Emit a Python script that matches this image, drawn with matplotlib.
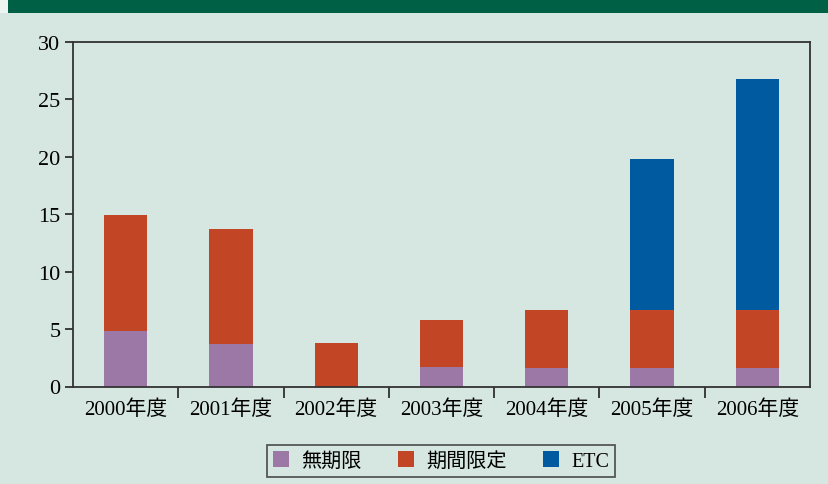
import matplotlib
matplotlib.use("Agg")
import matplotlib.pyplot as plt
from matplotlib.patches import Rectangle
import numpy as np

categories = ["2000年度", "2001年度", "2002年度", "2003年度", "2004年度", "2005年度", "2006年度"]
unlimited = [4.85, 3.7, 0.0, 1.7, 1.6, 1.6, 1.6]
limited = [10.05, 10.0, 3.8, 4.1, 5.05, 5.05, 5.05]
etc = [0.0, 0.0, 0.0, 0.0, 0.0, 13.15, 20.15]
series_names = ["無期限", "期間限定", "ETC"]
yticks = [0, 5, 10, 15, 20, 25, 30]

plt.rcParams['font.family'] = ['Liberation Serif', 'Noto Sans CJK JP']

W, H = 829, 485
fig = plt.figure(figsize=(W / 100, H / 100), dpi=100)
bg = "#d6e6e0"
fig.patch.set_facecolor(bg)
fig.patches.append(Rectangle((8 / W, 1 - 14 / H), 1 - 8 / W, 14 / H,
                             transform=fig.transFigure, facecolor="#006046",
                             edgecolor="none", zorder=0))
fig.patches.append(Rectangle((0, 1 - 14 / H), 8 / W, 14 / H,
                             transform=fig.transFigure, facecolor="#eef4f1",
                             edgecolor="none", zorder=0))

left, right, top, bottom = 73, 810, 43, 387.5
ax = fig.add_axes([left / W, 1 - bottom / H, (right - left) / W, (bottom - top) / H])
ax.set_facecolor(bg)

x = np.arange(len(categories))
w = 0.41
c1, c2, c3 = "#9b78a5", "#c24526", "#005aa0"
u = np.array(unlimited)
l = np.array(limited)
e = np.array(etc)
ax.bar(x, u, w, color=c1, label=series_names[0], zorder=2)
ax.bar(x, l, w, bottom=u, color=c2, label=series_names[1], zorder=2)
ax.bar(x, e, w, bottom=u + l, color=c3, label=series_names[2], zorder=2)

ax.set_xlim(-0.5, len(categories) - 0.5)
ax.set_ylim(0, 30)
ax.set_yticks(yticks)
ax.set_yticklabels([str(v) for v in yticks], fontsize=16)
ax.set_xticks(x)
ax.set_xticklabels(categories, fontsize=15)
ax.tick_params(axis='x', which='major', length=0, pad=9)
ax.set_xticks(np.arange(0.5, len(categories) - 0.5, 1), minor=True)
ax.tick_params(axis='x', which='minor', length=8, width=1.2, color="#222222", direction='out')
ax.tick_params(axis='y', length=6, width=1.2, color="#222222", direction='out', pad=3)
for s in ax.spines.values():
    s.set_color("#333333")
    s.set_linewidth(1.3)

leg = fig.legend(loc='center', bbox_to_anchor=(441 / W, 1 - 462 / H), ncol=3,
                 fontsize=14.5, frameon=True, fancybox=False, edgecolor="#333333",
                 facecolor=bg, handlelength=0.8, handleheight=0.8,
                 columnspacing=1.8, handletextpad=0.6, borderpad=0.3)
leg.get_frame().set_linewidth(1.3)

fig.savefig("out.png", dpi=100, facecolor=fig.get_facecolor())
